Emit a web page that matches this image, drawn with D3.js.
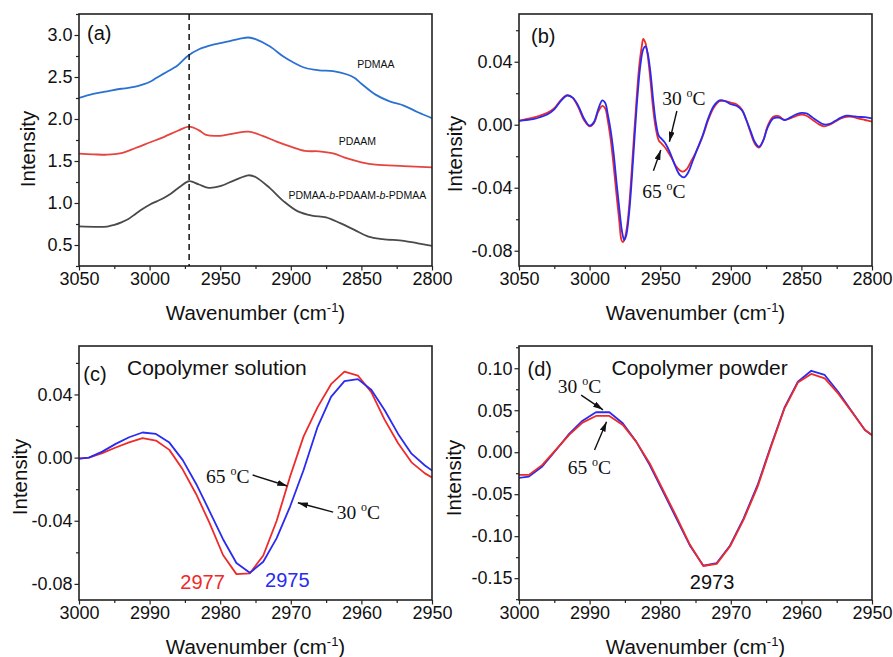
<!DOCTYPE html>
<html>
<head>
<meta charset="utf-8">
<script src="https://cdn.jsdelivr.net/npm/d3@7"></script>
<style>
  body { margin: 0; background: #fff; }
  text { font-family: Arial, 'Liberation Sans', sans-serif; fill: #111; }
  .serif { font-family: 'Times New Roman', 'Liberation Serif', serif; }
</style>
</head>
<body>
<svg id="chart" width="893" height="657"></svg>
<script>
// ---- (a) spectra ----
var wnPdmaa = [3050,3040,3030,3020,3015,3010,3005,3000,2995,2990,2980,2973,2965,2955,2945,2935,2930,2925,2915,2905,2900,2890,2880,2870,2860,2855,2850,2840,2830,2820,2810,2800];
var pdmaa   = [2.25,2.30,2.33,2.36,2.37,2.385,2.41,2.44,2.49,2.54,2.64,2.75,2.83,2.885,2.92,2.96,2.97,2.95,2.865,2.74,2.69,2.61,2.58,2.57,2.53,2.49,2.42,2.29,2.21,2.16,2.08,2.01];
var wnPdaam = [3050,3040,3030,3020,3010,3000,2990,2980,2972,2965,2960,2950,2940,2930,2920,2910,2900,2890,2880,2870,2860,2850,2840,2820,2800];
var pdaam   = [1.587,1.58,1.575,1.595,1.655,1.72,1.785,1.86,1.91,1.865,1.81,1.80,1.83,1.85,1.80,1.73,1.67,1.62,1.615,1.59,1.53,1.485,1.456,1.44,1.425];
var wnCopoly = [3050,3030,3025,3020,3015,3010,3005,3000,2995,2990,2985,2978,2972,2965,2958,2950,2940,2930,2925,2915,2905,2895,2885,2875,2865,2855,2845,2835,2820,2810,2800];
var copoly   = [0.722,0.72,0.74,0.77,0.81,0.87,0.93,0.98,1.02,1.06,1.11,1.20,1.26,1.22,1.18,1.20,1.27,1.33,1.31,1.18,1.02,0.90,0.85,0.83,0.76,0.68,0.60,0.57,0.55,0.52,0.49];
var dashWn = 2972;

// ---- (b) second derivative, 3050-2800 ----
var wnB30 = [3050,3045,3040,3035,3030,3025,3020,3016,3012,3008,3004,3000,2997,2994,2991,2989,2987,2985,2983,2981,2979,2977,2975.5,2974,2972,2970,2968,2966,2964,2962,2960.5,2959,2957,2955,2953,2951,2949,2947,2945,2942,2939,2936,2933,2930,2927,2924,2920,2916,2912,2908,2904,2900,2896,2892,2889,2886,2883,2880,2877,2874,2870,2866,2862,2858,2854,2850,2846,2842,2838,2834,2830,2826,2822,2818,2814,2810,2805,2800];
var b30 = [0.0025,0.003,0.0035,0.0048,0.0065,0.0098,0.0155,0.0185,0.0172,0.012,0.004,-0.0006,0.0015,0.0095,0.0155,0.014,0.006,-0.004,-0.018,-0.036,-0.053,-0.068,-0.0732,-0.07,-0.056,-0.033,-0.006,0.019,0.038,0.048,0.0497,0.046,0.034,0.016,0.001,-0.007,-0.009,-0.011,-0.014,-0.02,-0.027,-0.032,-0.0334,-0.03,-0.023,-0.016,-0.007,0.004,0.012,0.0155,0.015,0.013,0.012,0.009,0.003,-0.004,-0.011,-0.014,-0.01,-0.002,0.004,0.0045,0.003,0.0045,0.0065,0.0075,0.007,0.0045,0.002,0.0002,0.0005,0.0025,0.0045,0.0058,0.0055,0.005,0.0048,0.004];
var wnB65 = [3050,3045,3040,3035,3030,3025,3020,3016,3012,3008,3004,3000,2997,2994,2991,2989,2987,2985,2983,2981,2979,2977.5,2976.5,2975,2973,2971,2969,2967,2965,2963,2962,2960.5,2959,2957,2955,2953,2951,2949,2947,2945,2942,2939,2936,2934,2931,2928,2925,2922,2919,2916,2912,2908,2904,2900,2896,2892,2889,2886,2883,2880,2877,2874,2870,2866,2862,2858,2854,2850,2846,2842,2838,2834,2830,2826,2822,2818,2814,2810,2805,2800];
var b65 = [0.0025,0.0035,0.0045,0.0058,0.0075,0.0105,0.016,0.0188,0.017,0.011,0.003,-0.001,0.001,0.008,0.012,0.0105,0.002,-0.01,-0.026,-0.044,-0.061,-0.073,-0.0745,-0.072,-0.061,-0.04,-0.013,0.013,0.036,0.05,0.0545,0.052,0.045,0.029,0.01,-0.003,-0.01,-0.012,-0.014,-0.0165,-0.021,-0.026,-0.029,-0.0298,-0.028,-0.023,-0.018,-0.012,-0.005,0.003,0.011,0.015,0.015,0.014,0.013,0.0095,0.003,-0.005,-0.012,-0.0145,-0.01,-0.001,0.005,0.0055,0.003,0.004,0.0055,0.0065,0.0055,0.003,0.0005,-0.001,0,0.002,0.004,0.005,0.005,0.004,0.003,0.002];

// ---- (c) solution and (d) powder, 3000-2950 ----
var wnCD = [3000.5,2998.6,2996.7,2994.8,2992.9,2991.0,2989.1,2987.2,2985.3,2983.4,2981.5,2979.6,2977.7,2975.8,2973.9,2972.0,2970.1,2968.2,2966.2,2964.3,2962.4,2960.5,2958.6,2956.7,2954.8,2952.9,2951.0,2949.1];
var sol30 = [-0.0008,0,0.0038,0.0087,0.0129,0.0159,0.015,0.0095,-0.0016,-0.0167,-0.034,-0.0517,-0.0668,-0.073,-0.066,-0.051,-0.031,-0.008,0.0195,0.0385,0.0485,0.0497,0.043,0.03,0.015,0.0025,-0.005,-0.011];
var sol65 = [-0.0008,0,0.0028,0.0064,0.0097,0.0123,0.0108,0.0049,-0.0076,-0.0232,-0.0415,-0.0617,-0.0738,-0.0733,-0.062,-0.040,-0.012,0.0133,0.032,0.0465,0.0545,0.052,0.0415,0.0239,0.0091,-0.003,-0.01,-0.015];
var pow30 = [-0.031,-0.029,-0.017,0.002,0.0218,0.0376,0.0476,0.0476,0.0345,0.0126,-0.015,-0.047,-0.079,-0.111,-0.135,-0.132,-0.111,-0.079,-0.039,0.008,0.053,0.084,0.097,0.092,0.072,0.049,0.0265,0.015];
var pow65 = [-0.027,-0.027,-0.0151,0.0027,0.0206,0.0352,0.0432,0.0432,0.0325,0.0126,-0.0131,-0.0449,-0.0767,-0.11,-0.1355,-0.133,-0.112,-0.0806,-0.041,0.0067,0.052,0.0829,0.0932,0.088,0.07,0.0484,0.0265,0.015];

// ---- tick values ----
var xTicksWide = [3050,3000,2950,2900,2850,2800];
var xMinorWide = [3025,2975,2925,2875,2825];
var xTicksNarrow = [3000,2990,2980,2970,2960,2950];
var xMinorNarrow = [2995,2985,2975,2965,2955];
var yTicksA = [0.5,1.0,1.5,2.0,2.5,3.0];
var yMinorA = [0.25,0.75,1.25,1.75,2.25,2.75,3.25];
var yTicksBC = [-0.08,-0.04,0.00,0.04];
var yMinorBC = [-0.06,-0.02,0.02,0.06];
var yTicksD = [-0.15,-0.10,-0.05,0.00,0.05,0.10];
var yMinorD = [-0.175,-0.125,-0.075,-0.025,0.025,0.075,0.125];

var BLUE_A = '#2a72d2', RED_A = '#e5443f', GREY_A = '#4a4a4a';
var BLUE = '#2a2af0', RED = '#ee2a2a';

var svg = d3.select('#chart');
var defs = svg.append('defs');
defs.append('marker')
  .attr('id', 'arrow')
  .attr('viewBox', '0 0 10 6')
  .attr('refX', 10).attr('refY', 3)
  .attr('markerWidth', 10).attr('markerHeight', 6)
  .attr('markerUnits', 'userSpaceOnUse')
  .attr('orient', 'auto')
  .append('path').attr('d', 'M0,0 L10,3 L0,6 Z').attr('fill', '#111');

function fmt(d, p) {
  return d3.format('.' + p + 'f')(d).replace('\u2212', '-');
}

function drawPanel(p) {
  var g = svg.append('g');
  var x = d3.scaleLinear().domain(p.xDomain).range([p.left, p.right]);
  var y = d3.scaleLinear().domain(p.yDomain).range([p.bottom, p.top]);

  defs.append('clipPath').attr('id', 'clip-' + p.name)
    .append('rect')
    .attr('x', p.left).attr('y', p.top)
    .attr('width', p.right - p.left).attr('height', p.bottom - p.top);

  // axes: major + minor, ticks outward
  g.append('g').attr('transform', 'translate(0,' + p.bottom + ')')
    .call(d3.axisBottom(x).tickValues(p.xMinor).tickSize(3).tickFormat(''))
    .call(function(a) { a.select('.domain').remove(); });
  g.append('g').attr('transform', 'translate(0,' + p.bottom + ')')
    .call(d3.axisBottom(x).tickValues(p.xTicks).tickSize(4.5).tickPadding(2)
      .tickFormat(function(d) { return d; }))
    .call(function(a) {
      a.select('.domain').remove();
      a.selectAll('text').style('font-size', '18px');
    });
  g.append('g').attr('transform', 'translate(' + p.left + ',0)')
    .call(d3.axisLeft(y).tickValues(p.yMinor.filter(function(v) {
      return v >= p.yDomain[0] && v <= p.yDomain[1];
    })).tickSize(3).tickFormat(''))
    .call(function(a) { a.select('.domain').remove(); });
  g.append('g').attr('transform', 'translate(' + p.left + ',0)')
    .call(d3.axisLeft(y).tickValues(p.yTicks).tickSize(4.5).tickPadding(2)
      .tickFormat(function(d) { return fmt(d, p.yDigits); }))
    .call(function(a) {
      a.select('.domain').remove();
      a.selectAll('text').style('font-size', '18px');
    });
  g.selectAll('.tick line').attr('stroke', '#222').attr('stroke-width', 1.2);

  var line = d3.line()
    .x(function(d) { return x(d[0]); })
    .y(function(d) { return y(d[1]); })
    .curve(p.curve || d3.curveLinear);

  p.series.forEach(function(s) {
    g.append('path')
      .datum(d3.zip(s.wn, s.val))
      .attr('clip-path', 'url(#clip-' + p.name + ')')
      .attr('fill', 'none')
      .attr('stroke', s.color)
      .attr('stroke-width', 1.8)
      .attr('stroke-linejoin', 'round')
      .attr('d', line);
  });

  g.append('rect')
    .attr('x', p.left).attr('y', p.top)
    .attr('width', p.right - p.left).attr('height', p.bottom - p.top)
    .attr('fill', 'none').attr('stroke', '#222').attr('stroke-width', 1.6);

  // axis titles
  var xt = g.append('text')
    .attr('x', (p.left + p.right) / 2).attr('y', p.bottom + 54)
    .attr('text-anchor', 'middle').style('font-size', '20.5px');
  xt.append('tspan').text('Wavenumber (cm');
  xt.append('tspan').attr('dy', -8).style('font-size', '13px').text('-1');
  xt.append('tspan').attr('dy', 8).text(')');

  g.append('text')
    .attr('transform', 'translate(' + p.yTitleX + ',' + p.yTitleY + ') rotate(-90)')
    .attr('text-anchor', 'middle').style('font-size', '20.5px')
    .text('Intensity');

  g.append('text').attr('x', x(p.tag[0])).attr('y', y(p.tag[1]))
    .style('font-size', '20px').text(p.tag[2]);

  return { g: g, x: x, y: y };
}

function tempLabel(panel, t, w, v) {
  var txt = panel.g.append('text').attr('class', 'serif')
    .attr('x', panel.x(w)).attr('y', panel.y(v)).style('font-size', '19.5px');
  txt.append('tspan').text(t + ' ');
  txt.append('tspan').attr('dy', -8).style('font-size', '12px').text('o');
  txt.append('tspan').attr('dy', 8).text('C');
}

function arrow(panel, from, to) {
  panel.g.append('line')
    .attr('x1', panel.x(from[0])).attr('y1', panel.y(from[1]))
    .attr('x2', panel.x(to[0])).attr('y2', panel.y(to[1]))
    .attr('stroke', '#111').attr('stroke-width', 1.4)
    .attr('marker-end', 'url(#arrow)');
}

// ---------- (a) ----------
var pa = drawPanel({
  name: 'a', left: 79, right: 432, top: 14, bottom: 266,
  xDomain: [3050, 2800], yDomain: [0.25, 3.25],
  xTicks: xTicksWide, xMinor: xMinorWide, yTicks: yTicksA, yMinor: yMinorA, yDigits: 1,
  yTitleX: 35, yTitleY: 149, tag: [3044.3, 2.936, '(a)'],
  curve: d3.curveCatmullRom.alpha(0.5),
  series: [
    { wn: wnPdmaa, val: pdmaa, color: BLUE_A },
    { wn: wnPdaam, val: pdaam, color: RED_A },
    { wn: wnCopoly, val: copoly, color: GREY_A }
  ]
});
pa.g.append('line')
  .attr('x1', pa.x(dashWn)).attr('x2', pa.x(dashWn))
  .attr('y1', pa.y(3.25)).attr('y2', pa.y(0.25))
  .attr('stroke', '#111').attr('stroke-width', 1.5).attr('stroke-dasharray', '6,4');
pa.g.append('text').attr('x', pa.x(2839.7)).attr('y', pa.y(2.607))
  .attr('text-anchor', 'middle').style('font-size', '10.5px').text('PDMAA');
pa.g.append('text').attr('x', pa.x(2852.9)).attr('y', pa.y(1.694))
  .attr('text-anchor', 'middle').style('font-size', '10.5px').text('PDAAM');
var cp = pa.g.append('text').attr('x', pa.x(2852.9)).attr('y', pa.y(1.048))
  .attr('text-anchor', 'middle').style('font-size', '10.5px');
cp.append('tspan').text('PDMAA-');
cp.append('tspan').style('font-style', 'italic').text('b');
cp.append('tspan').text('-PDAAM-');
cp.append('tspan').style('font-style', 'italic').text('b');
cp.append('tspan').text('-PDMAA');

// ---------- (b) ----------
var pb = drawPanel({
  name: 'b', left: 519, right: 872, top: 14, bottom: 266,
  xDomain: [3050, 2800], yDomain: [-0.0897, 0.0703],
  xTicks: xTicksWide, xMinor: xMinorWide, yTicks: yTicksBC, yMinor: yMinorBC, yDigits: 2,
  yTitleX: 462, yTitleY: 154, tag: [3041.5, 0.0517, '(b)'],
  curve: d3.curveCatmullRom.alpha(0.5),
  series: [
    { wn: wnB65, val: b65, color: RED },
    { wn: wnB30, val: b30, color: BLUE }
  ]
});
tempLabel(pb, '30', 2948.6, 0.0125);
arrow(pb, [2938.2, 0.0087], [2943.5, -0.0108]);
tempLabel(pb, '65', 2962.8, -0.0465);
arrow(pb, [2954.8, -0.0292], [2949.6, -0.0161]);

// ---------- (c) ----------
var pc = drawPanel({
  name: 'c', left: 79, right: 432, top: 346, bottom: 600,
  xDomain: [3000, 2950], yDomain: [-0.0902, 0.0707],
  xTicks: xTicksNarrow, xMinor: xMinorNarrow, yTicks: yTicksBC, yMinor: yMinorBC, yDigits: 2,
  yTitleX: 27, yTitleY: 477, tag: [2999.4, 0.0487, '(c)'],
  series: [
    { wn: wnCD, val: sol65, color: RED },
    { wn: wnCD, val: sol30, color: BLUE }
  ]
});
pc.g.append('text').attr('x', pc.x(2993.2)).attr('y', pc.y(0.0525))
  .style('font-size', '21px').text('Copolymer solution');
tempLabel(pc, '65', 2982.0, -0.0161);
arrow(pc, [2975.4, -0.011], [2970.5, -0.018]);
tempLabel(pc, '30', 2963.5, -0.039);
arrow(pc, [2964.0, -0.0345], [2969.0, -0.0286]);
pc.g.append('text').attr('x', pc.x(2982.5)).attr('y', pc.y(-0.0834))
  .attr('text-anchor', 'middle').style('fill', RED).style('font-size', '20px').text('2977');
pc.g.append('text').attr('x', pc.x(2970.5)).attr('y', pc.y(-0.0821))
  .attr('text-anchor', 'middle').style('fill', BLUE).style('font-size', '20px').text('2975');

// ---------- (d) ----------
var pd = drawPanel({
  name: 'd', left: 519, right: 872, top: 346, bottom: 600,
  xDomain: [3000, 2950], yDomain: [-0.176, 0.1265],
  xTicks: xTicksNarrow, xMinor: xMinorNarrow, yTicks: yTicksD, yMinor: yMinorD, yDigits: 2,
  yTitleX: 461, yTitleY: 478, tag: [2998.8, 0.0908, '(d)'],
  series: [
    { wn: wnCD, val: pow30, color: BLUE },
    { wn: wnCD, val: pow65, color: RED }
  ]
});
pd.g.append('text').attr('x', pd.x(2986.9)).attr('y', pd.y(0.092))
  .style('font-size', '21px').text('Copolymer powder');
tempLabel(pd, '30', 2994.5, 0.070);
arrow(pd, [2991.2, 0.068], [2988.1, 0.0505]);
tempLabel(pd, '65', 2993.1, -0.0258);
arrow(pd, [2989.3, 0.0027], [2987.6, 0.0364]);
pd.g.append('text').attr('x', pd.x(2975.8)).attr('y', pd.y(-0.163))
  .style('font-size', '20px').text('2973');
</script>
</body>
</html>
